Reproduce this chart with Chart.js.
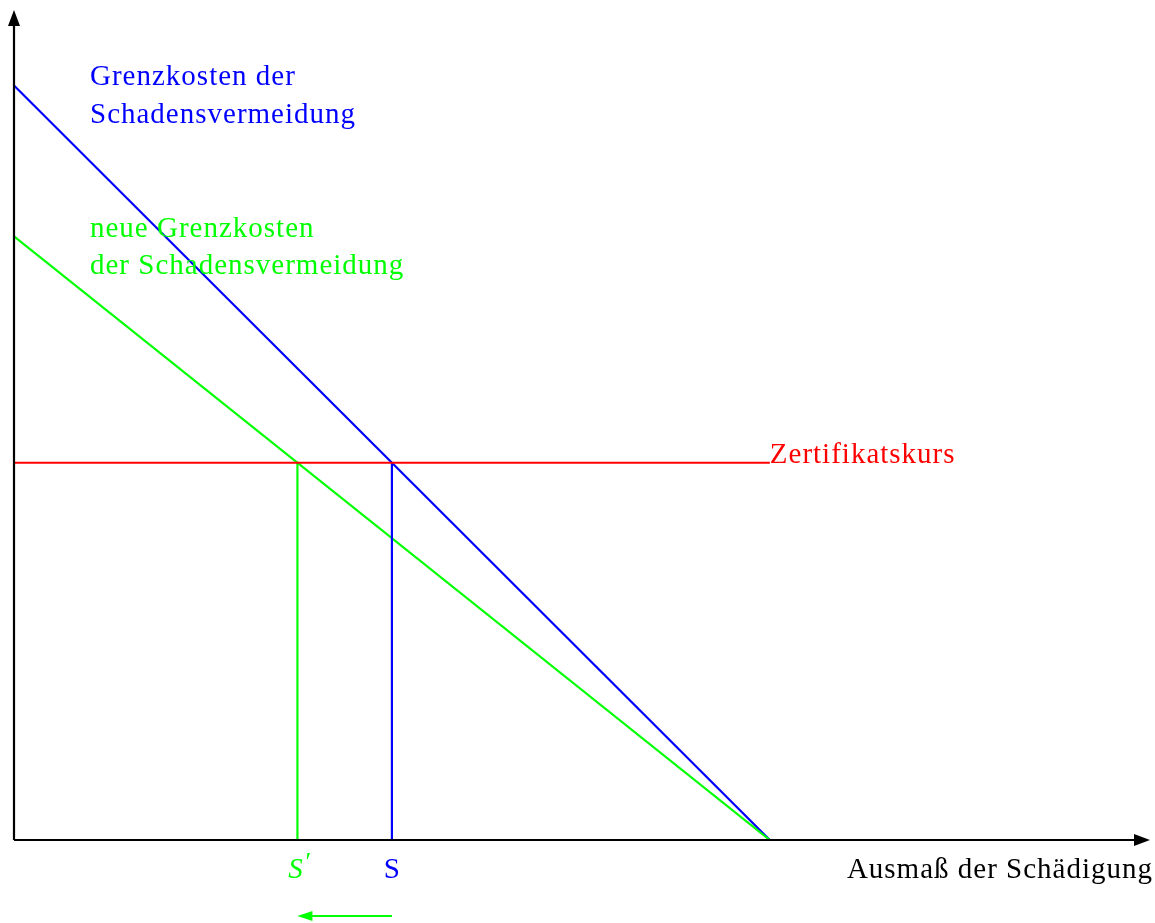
<!DOCTYPE html>
<html>
<head>
<meta charset="utf-8">
<script src="https://cdn.jsdelivr.net/npm/chart.js@4"></script>
<style>
  html, body { margin: 0; padding: 0; background: #fff; }
  #wrap { width: 1155px; height: 923px; }
</style>
</head>
<body>
<div id="wrap"><canvas id="chart"></canvas></div>
<script>
// Axis ranges (units of the diagram)
const xRange = [0, 15.03];
const yRange = [0, 11];

// Curves: x positions and values
const curveX = [0, 10];
const oldCost = [10, 0];     // Grenzkosten der Schadensvermeidung
const newCost = [8, 0];      // neue Grenzkosten
const priceX = [0, 10];
const price = [5, 5];        // Zertifikatskurs
const sOld = 5;              // S
const sNew = 3.75;           // S'

const FONT = '"Liberation Serif", "DejaVu Serif", serif';
const BLUE = '#0000ff';
const GREEN = '#00ff00';
const RED = '#ff0000';

function pts(xs, ys) {
  return xs.map((x, i) => ({ x: x, y: ys[i] }));
}

// Axes with arrows plus all text labels
const annotations = {
  id: 'annotations',
  afterDatasetsDraw(chart) {
    const ctx = chart.ctx;
    const xs = chart.scales.x;
    const ys = chart.scales.y;
    const x0 = xs.getPixelForValue(0);
    const y0 = ys.getPixelForValue(0);
    const xEnd = xs.getPixelForValue(xRange[1]);
    const yEnd = ys.getPixelForValue(yRange[1]);

    ctx.save();
    ctx.strokeStyle = '#000';
    ctx.fillStyle = '#000';
    ctx.lineWidth = 2.2;
    ctx.beginPath();
    ctx.moveTo(x0, y0);
    ctx.lineTo(xEnd - 8, y0);
    ctx.moveTo(x0, y0);
    ctx.lineTo(x0, yEnd + 8);
    ctx.stroke();
    // arrow heads
    ctx.beginPath();
    ctx.moveTo(xEnd, y0);
    ctx.lineTo(xEnd - 16, y0 - 6);
    ctx.lineTo(xEnd - 16, y0 + 6);
    ctx.closePath();
    ctx.fill();
    ctx.beginPath();
    ctx.moveTo(x0, yEnd);
    ctx.lineTo(x0 - 6, yEnd + 16);
    ctx.lineTo(x0 + 6, yEnd + 16);
    ctx.closePath();
    ctx.fill();

    // labels
    ctx.font = '29px ' + FONT;
    ctx.letterSpacing = '1px';
    ctx.textBaseline = 'alphabetic';
    ctx.textAlign = 'left';
    ctx.fillStyle = BLUE;
    ctx.fillText('Grenzkosten der', 90, 85);
    ctx.fillText('Schadensvermeidung', 90, 123);
    ctx.fillStyle = GREEN;
    ctx.fillText('neue Grenzkosten', 90, 237);
    ctx.fillText('der Schadensvermeidung', 90, 274);
    ctx.fillStyle = RED;
    ctx.fillText('Zertifikatskurs', xs.getPixelForValue(priceX[1]), ys.getPixelForValue(price[1]));
    ctx.fillStyle = '#000';
    ctx.textAlign = 'right';
    ctx.fillText('Ausmaß der Schädigung', 1153, 878);

    ctx.letterSpacing = '0px';
    ctx.textAlign = 'center';
    ctx.fillStyle = BLUE;
    ctx.fillText('S', xs.getPixelForValue(sOld), 878);
    ctx.fillStyle = GREEN;
    ctx.font = 'italic 29px ' + FONT;
    ctx.fillText('S', xs.getPixelForValue(sNew) - 2, 878);
    ctx.font = '26px ' + FONT;
    ctx.fillText('\u2032', xs.getPixelForValue(sNew) + 11, 870);

    // shift arrow S -> S'
    const ax1 = xs.getPixelForValue(sOld);
    const ax2 = xs.getPixelForValue(sNew);
    ctx.strokeStyle = GREEN;
    ctx.lineWidth = 2.2;
    ctx.beginPath();
    ctx.moveTo(ax1, 916);
    ctx.lineTo(ax2 + 10, 916);
    ctx.stroke();
    ctx.beginPath();
    ctx.moveTo(ax2, 916);
    ctx.lineTo(ax2 + 15, 911);
    ctx.lineTo(ax2 + 15, 921);
    ctx.closePath();
    ctx.fill();
    ctx.restore();
  }
};

const line = (data, color) => ({
  data: data,
  borderColor: color,
  borderWidth: 2.2,
  pointRadius: 0,
  fill: false,
  tension: 0
});

new Chart(document.getElementById('chart'), {
  type: 'line',
  data: {
    datasets: [
      line(pts(priceX, price), RED),
      line(pts([sNew, sNew], [0, price[0]]), GREEN),
      line(pts([sOld, sOld], [0, price[0]]), BLUE),
      line(pts(curveX, newCost), GREEN),
      line(pts(curveX, oldCost), BLUE)
    ]
  },
  options: {
    responsive: true,
    maintainAspectRatio: false,
    animation: false,
    layout: { padding: { left: 14, right: 5, top: 10, bottom: 83 } },
    plugins: { legend: { display: false }, tooltip: { enabled: false } },
    scales: {
      x: { type: 'linear', min: xRange[0], max: xRange[1], display: false },
      y: { type: 'linear', min: yRange[0], max: yRange[1], display: false }
    }
  },
  plugins: [annotations]
});
</script>
</body>
</html>
